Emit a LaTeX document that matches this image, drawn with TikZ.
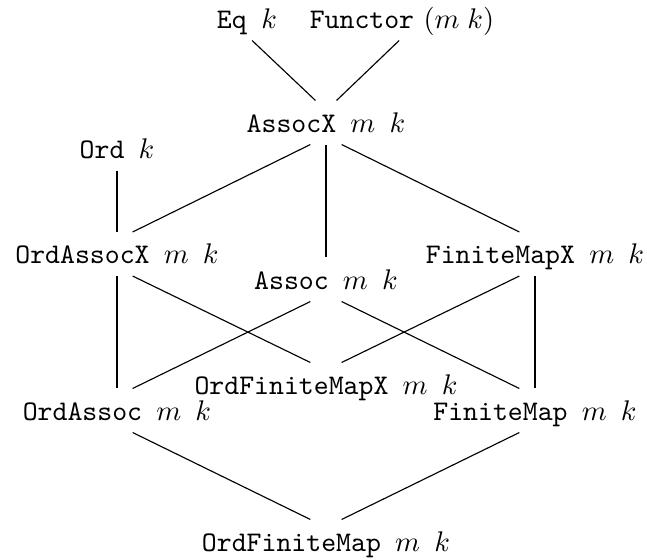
\documentclass[tikz,border=0pt]{standalone}
\usepackage{amsfonts,amssymb,amsmath}
\usepackage{tikz}
\newcommand{\sep}{\hspace{5pt}}
\newcommand{\mk}{$m$\sep$k$}
\newcommand{\dshift}{5.5pt}
\tikzset{
cls/.style={
  rectangle,
  inner sep=0pt,
  text height=8pt,
  text depth=1pt,
  minimum height=15.1pt
}
}

\begin{document}
\begin{tikzpicture}[x=0.352pt,y=-0.352pt]
\useasboundingbox (0,0) rectangle (647,559);
% the classes
\node[cls] (eq)            at (247,18.5)  {\texttt{Eq}\sep$k$};
\node[cls] (functor)       at (402,18.5)  {\texttt{Functor}~$(m\;k)$};
\node[cls] (assocx)        at (326,122.5) {\texttt{AssocX}\sep\mk};
\node[cls] (ord)           at (117,148.5) {\texttt{Ord}\sep$k$};
\node[cls] (ordassocx)     at (117,254)   {\texttt{OrdAssocX}\sep\mk};
\node[cls] (finitemapx)    at (535,254)   {\texttt{FiniteMapX}\sep\mk};
\node[cls] (assoc)         at (326,279.5) {\texttt{Assoc}\sep\mk};
\node[cls] (ordfinitemapx) at (326,384.5) {\texttt{OrdFiniteMapX}\sep\mk};
\node[cls] (ordassoc)      at (117,410.5) {\texttt{OrdAssoc}\sep\mk};
\node[cls] (finitemap)     at (535,410.5) {\texttt{FiniteMap}\sep\mk};
\node[cls] (ordfinitemap)  at (326,541.5) {\texttt{OrdFiniteMap}\sep\mk};
% the superclasses of AssocX
\draw ([xshift=1.8pt]eq.south) -- ([xshift=-3.7pt]assocx.north);
\draw ([xshift=-1pt]functor.south) -- ([xshift=3.7pt]assocx.north);
% the edges going down and left
\foreach \a/\b in {assocx/ordassocx,assoc/ordassoc,finitemapx/ordfinitemapx,finitemap/ordfinitemap}
{
  \draw ([xshift=-\dshift]\a.south) -- ([xshift=\dshift]\b.north);
}
% the edges going down and right
\foreach \a/\b in {assocx/finitemapx,assoc/finitemap,ordassocx/ordfinitemapx,ordassoc/ordfinitemap}
{
  \draw ([xshift=\dshift]\a.south) -- ([xshift=-\dshift]\b.north);
}
% the edges going straight down
\foreach \a/\b in {ord/ordassocx,assocx/assoc,ordassocx/ordassoc,finitemapx/finitemap}
{
  \draw (\a.south) -- (\b.north);
}
\end{tikzpicture}
\end{document}
